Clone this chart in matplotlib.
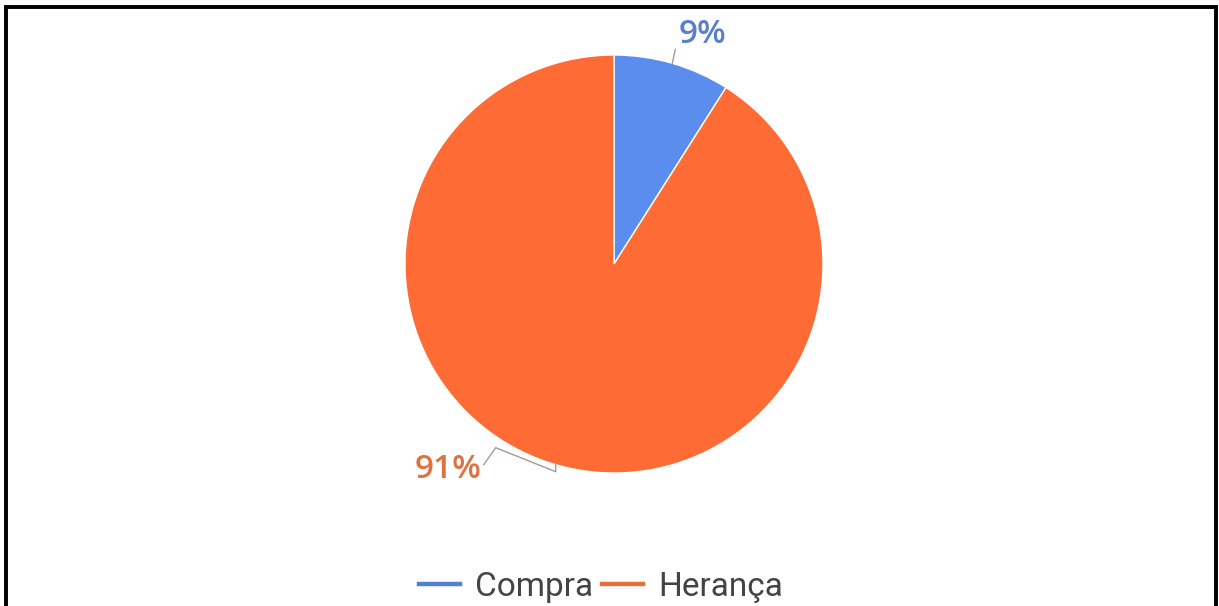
import numpy as np
import matplotlib.pyplot as plt
from matplotlib.patches import Rectangle
from matplotlib.lines import Line2D

categories = ['Compra', 'Herança']
shares = [9, 91]
slice_colors = ['#5B8DEE', '#FF6B35']
label_colors = ['#5A80CC', '#DE7240']
legend_colors = ['#5281D4', '#E2713A']

W, H = 1219, 606
fig = plt.figure(figsize=(W / 100, H / 100), dpi=100)
ax = fig.add_axes([0, 0, 1, 1])

# pie in pixel-like data units
cx, cy, r = 614, H - 264, 209
wedges, _ = ax.pie(shares, colors=slice_colors, startangle=90, counterclock=False,
                   center=(cx, cy), radius=r, frame=True,
                   wedgeprops=dict(edgecolor='white', linewidth=1))
ax.set_xlim(0, W)
ax.set_ylim(0, H)
ax.set_aspect('equal')
ax.axis('off')

label_font = dict(family='Open Sans', fontsize=24, fontweight='semibold')
leader = '#A89A94'

for w, val, col in zip(wedges, shares, label_colors):
    mid = np.deg2rad((w.theta1 + w.theta2) / 2)
    ex, ey = cx + r * np.cos(mid), cy + r * np.sin(mid)
    if np.sin(mid) > 0:
        # short leader straight up to the label
        ax.plot([ex, ex + 3], [ey, ey + 14], color=leader, lw=1)
        ax.text(ex + 6, ey + 12, f'{val}%', color=col, ha='left', va='bottom', **label_font)
    else:
        # bracket-style leader going left to the label
        xs = [ex, ex, ex - 60, ex - 72]
        ys = [ey, ey - 7, ey + 17, ey]
        ax.plot(xs, ys, color=leader, lw=1)
        ax.text(ex - 74, ey - 5, f'{val}%', color=col, ha='right', va='center', **label_font)

handles = [Line2D([], [], color=c, lw=3.2) for c in legend_colors]
leg = ax.legend(handles, categories, loc='center', bbox_to_anchor=(601 / W, (H - 587) / H),
                ncol=2, frameon=False, handlelength=1.25, handletextpad=0.45,
                columnspacing=0.25, prop=dict(family='Roboto', size=24))
for t in leg.get_texts():
    t.set_color('#444444')

# outer frame, open at the bottom edge
fig.patches.append(Rectangle((6 / W, -0.05), 1210 / W, (H - 7) / H + 0.05,
                             transform=fig.transFigure, fill=False,
                             edgecolor='black', lw=2.8))

fig.savefig('out.png', dpi=100)
